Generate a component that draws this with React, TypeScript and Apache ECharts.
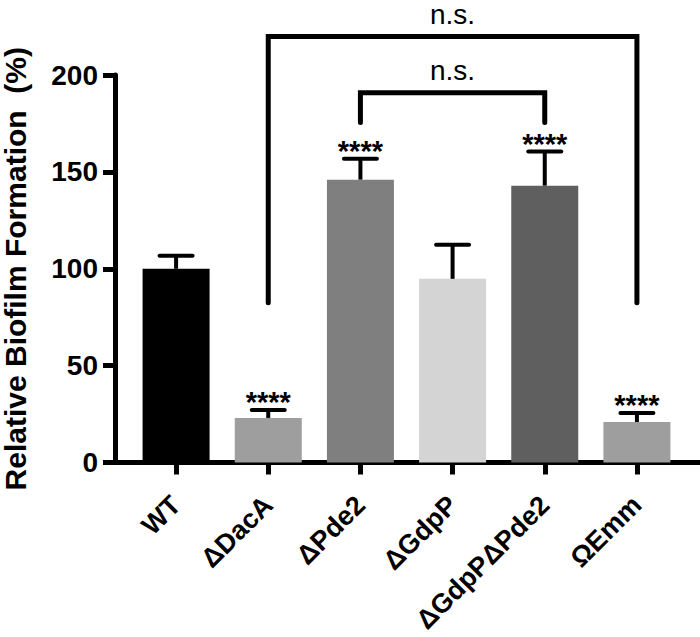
import React, { useEffect, useRef } from "react";
import * as echarts from "echarts";

const categories = ["WT", "ΔDacA", "ΔPde2", "ΔGdpP", "ΔGdpPΔPde2", "ΩEmm"];
const means = [100, 23.0, 146.0, 94.8, 142.9, 20.9];
const errors = [6.7, 4.1, 10.8, 17.6, 17.6, 4.7];
const stars = ["", "****", "****", "", "****", "****"];
const barColors = ["#000000", "#9e9e9e", "#7f7f7f", "#d4d4d4", "#5f5f5f", "#9e9e9e"];
const yTicks = [0, 50, 100, 150, 200];
// brackets: [leftIndex, rightIndex, topValue, bottomValue, label]
const brackets: [number, number, number, number, string][] = [
  [1, 5, 219.9, 82.4, "n.s."],
  [2, 4, 190.9, 175.5, "n.s."],
];

const FONT = "'Liberation Sans', Arial, Helvetica, sans-serif";

export default function App() {
  const ref = useRef<HTMLDivElement>(null);
  useEffect(() => {
    if (!ref.current) return;
    const chart = echarts.init(ref.current, null, { renderer: "svg" });
    const gridTop = 75;
    const gridBottom = 174.5;
    chart.setOption({
      animation: false,
      backgroundColor: "#ffffff",
      textStyle: { fontFamily: FONT },
      grid: [
        { left: 130, right: 17, top: gridTop, bottom: gridBottom, containLabel: false, outerBoundsMode: "none" },
        { left: 115, right: 0, top: gridTop, bottom: gridBottom, containLabel: false, outerBoundsMode: "none" },
      ],
      xAxis: [
        {
          type: "category",
          gridIndex: 0,
          data: categories,
          axisLine: { show: false },
          axisTick: { show: true, alignWithLabel: true, length: 12, lineStyle: { width: 5, color: "#000" } },
          axisLabel: {
            rotate: 45,
            interval: 0,
            margin: 38,
            fontSize: 27,
            fontWeight: "bold",
            color: "#000",
            fontFamily: FONT,
          },
        },
        {
          type: "value",
          gridIndex: 1,
          min: 0,
          max: 1,
          axisLine: { show: true, lineStyle: { width: 5, color: "#000" } },
          axisTick: { show: false },
          axisLabel: { show: false },
          splitLine: { show: false },
        },
      ],
      yAxis: [
        { type: "value", gridIndex: 0, min: 0, max: 200, show: false },
        {
          type: "value",
          gridIndex: 1,
          min: 0,
          max: 200,
          interval: 50,
          axisLine: { show: true, lineStyle: { width: 5, color: "#000" } },
          axisTick: { show: true, length: 12, lineStyle: { width: 5, color: "#000" } },
          axisLabel: {
            margin: 17,
            fontSize: 28,
            fontWeight: "bold",
            color: "#000",
            fontFamily: FONT,
            formatter: (v: number) => (yTicks.includes(v) ? String(v) : ""),
          },
          splitLine: { show: false },
          name: "Relative Biofilm Formation  (%)",
          nameLocation: "middle",
          nameGap: 85,
          nameTextStyle: { fontSize: 30, fontWeight: "bold", color: "#000", fontFamily: FONT },
        },
      ],
      series: [
        {
          type: "bar",
          xAxisIndex: 0,
          yAxisIndex: 0,
          barWidth: 67,
          data: means.map((v, i) => ({ value: v, itemStyle: { color: barColors[i] } })),
          z: 2,
        },
        {
          type: "custom",
          xAxisIndex: 0,
          yAxisIndex: 0,
          clip: false,
          z: 3,
          data: means.map((m, i) => [i, m, errors[i]]),
          renderItem: (params: any, api: any) => {
            const i = api.value(0);
            const m = api.value(1);
            const e = api.value(2);
            const base = api.coord([i, m]);
            const top = api.coord([i, m + e]);
            const half = 16.5;
            const children: any[] = [
              {
                type: "line",
                shape: { x1: base[0], y1: base[1], x2: top[0], y2: top[1] },
                style: { stroke: "#000", lineWidth: 4 },
              },
              {
                type: "line",
                shape: { x1: top[0] - half, y1: top[1], x2: top[0] + half, y2: top[1] },
                style: { stroke: "#000", lineWidth: 4, lineCap: "round" },
              },
            ];
            const s = stars[params.dataIndex];
            if (s) {
              children.push({
                type: "text",
                x: top[0],
                y: top[1] - 8,
                style: {
                  text: s,
                  fill: "#000",
                  fontSize: 29,
                  fontWeight: "bold",
                  fontFamily: FONT,
                  align: "center",
                  verticalAlign: "middle",
                },
              });
            }
            return { type: "group", children };
          },
        },
        {
          type: "custom",
          xAxisIndex: 0,
          yAxisIndex: 0,
          clip: false,
          z: 4,
          data: brackets.map((b) => [b[0], b[1], b[2], b[3]]),
          renderItem: (params: any, api: any) => {
            const a = api.value(0);
            const b = api.value(1);
            const t = api.value(2);
            const bt = api.value(3);
            const p1 = api.coord([a, bt]);
            const p2 = api.coord([a, t]);
            const p3 = api.coord([b, t]);
            const p4 = api.coord([b, bt]);
            return {
              type: "group",
              children: [
                {
                  type: "polyline",
                  shape: { points: [p1, p2, p3, p4] },
                  style: { stroke: "#000", lineWidth: 5, fill: "none", lineCap: "round", lineJoin: "miter" },
                },
                {
                  type: "text",
                  x: (p2[0] + p3[0]) / 2,
                  y: p2[1] - 22,
                  style: {
                    text: brackets[params.dataIndex][4],
                    fill: "#000",
                    fontSize: 28,
                    fontFamily: FONT,
                    align: "center",
                    verticalAlign: "middle",
                  },
                },
              ],
            };
          },
        },
      ],
    });
    return () => chart.dispose();
  }, []);
  return (
    <div
      ref={ref}
      style={{ position: "fixed", left: 0, top: 0, width: 700, height: 637, background: "#fff" }}
    />
  );
}
